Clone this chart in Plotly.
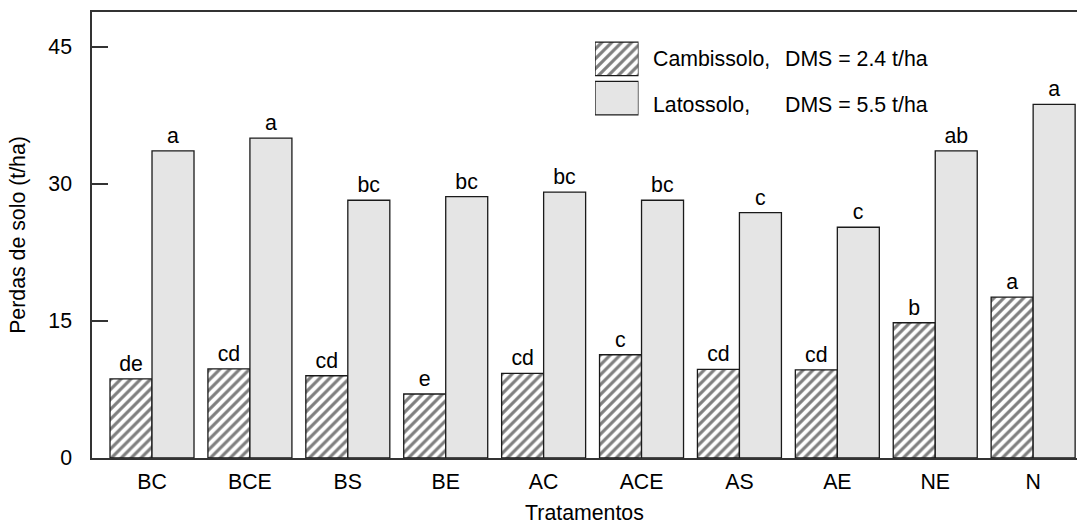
import plotly.graph_objects as go

# Soil loss (t/ha) per treatment for two soils
tratamentos = ["BC", "BCE", "BS", "BE", "AC", "ACE", "AS", "AE", "NE", "N"]
cambissolo = [8.65, 9.75, 9.0, 7.0, 9.25, 11.3, 9.7, 9.65, 14.8, 17.6]
latossolo = [33.6, 35.0, 28.2, 28.6, 29.1, 28.2, 26.85, 25.25, 33.6, 38.7]
letras_cambissolo = ["de", "cd", "cd", "e", "cd", "c", "cd", "cd", "b", "a"]
letras_latossolo = ["a", "a", "bc", "bc", "bc", "bc", "c", "c", "ab", "a"]

legenda_solo = ["Cambissolo,", "Latossolo,"]
legenda_dms = ["DMS = 2.4 t/ha", "DMS = 5.5 t/ha"]

FONT = "Liberation Sans, Arial, Helvetica, sans-serif"
FS = 21.3
AXIS = "#333333"
EDGE = "#1a1a1a"
GRAY = "#e5e5e5"

hatch = dict(shape="/", size=7, solidity=0.45, fgcolor="black", bgcolor="white")

fig = go.Figure()

fig.add_trace(go.Bar(
    x=tratamentos, y=cambissolo, name="Cambissolo",
    marker=dict(color="white", pattern=hatch, line=dict(color=EDGE, width=1.3)),
    text=letras_cambissolo, textposition="outside",
    textfont=dict(family=FONT, size=FS, color="black"),
    constraintext="none", cliponaxis=False, showlegend=False,
))
fig.add_trace(go.Bar(
    x=tratamentos, y=latossolo, name="Latossolo",
    marker=dict(color=GRAY, line=dict(color=EDGE, width=1.3)),
    text=letras_latossolo, textposition="outside",
    textfont=dict(family=FONT, size=FS, color="black"),
    constraintext="none", cliponaxis=False, showlegend=False,
))

# Legend swatches drawn as bars on a small overlay axis pair
fig.add_trace(go.Bar(
    x=[1], y=[1], orientation="h", xaxis="x2", yaxis="y2",
    marker=dict(color="white", pattern=hatch, line=dict(color=EDGE, width=1.3)),
    showlegend=False, hoverinfo="skip",
))
fig.add_trace(go.Bar(
    x=[1], y=[0], orientation="h", xaxis="x2", yaxis="y2",
    marker=dict(color=GRAY, line=dict(color=EDGE, width=1.3)),
    showlegend=False, hoverinfo="skip",
))

W, H = 1077, 525
L, R, T, B = 92, 0, 12, 67
pw, ph = W - L - R, H - T - B


def px_x(x):
    return (x - L) / pw


def px_y(y):
    return (H - B - y) / ph


annotations = []
for i, (s, d) in enumerate(zip(legenda_solo, legenda_dms)):
    yc = [59, 105][i]
    annotations.append(dict(x=px_x(651), y=px_y(yc), xref="paper", yref="paper",
                            text=s, showarrow=False, xanchor="left", yanchor="middle",
                            font=dict(family=FONT, size=FS, color="black")))
    annotations.append(dict(x=px_x(783), y=px_y(yc), xref="paper", yref="paper",
                            text=d, showarrow=False, xanchor="left", yanchor="middle",
                            font=dict(family=FONT, size=FS, color="black")))

fig.update_layout(
    width=W, height=H,
    margin=dict(l=L, r=R, t=T, b=B),
    paper_bgcolor="white", plot_bgcolor="white",
    barmode="group", bargap=0.142, bargroupgap=0,
    font=dict(family=FONT, size=FS, color="black"),
    xaxis=dict(
        range=[-0.613, 9.448], showline=True, mirror=True, linecolor=AXIS, linewidth=1.5,
        ticks="", showgrid=False, zeroline=False,
        tickfont=dict(family=FONT, size=FS, color="black"), ticklabelstandoff=4,
        title=dict(text="Tratamentos", font=dict(family=FONT, size=FS, color="black"), standoff=13),
    ),
    yaxis=dict(
        range=[0, 48.8], showline=True, linecolor=AXIS, linewidth=1.5,
        tickvals=[0, 15, 30, 45], ticks="inside", ticklen=16, tickwidth=1.5, tickcolor=AXIS,
        showgrid=False, zeroline=False, ticklabelstandoff=14,
        tickfont=dict(family=FONT, size=FS, color="black"),
        title=dict(text="Perdas de solo (t/ha)", font=dict(family=FONT, size=FS, color="black"), standoff=17),
    ),
    xaxis2=dict(domain=[px_x(595), px_x(638.5)], range=[0, 1], anchor="y2",
                visible=False, fixedrange=True),
    yaxis2=dict(domain=[px_y(117.7), px_y(39.3)], range=[-0.5, 1.5], anchor="x2",
                visible=False, fixedrange=True),
    annotations=annotations,
    showlegend=False,
)

fig.write_html("out.html")
